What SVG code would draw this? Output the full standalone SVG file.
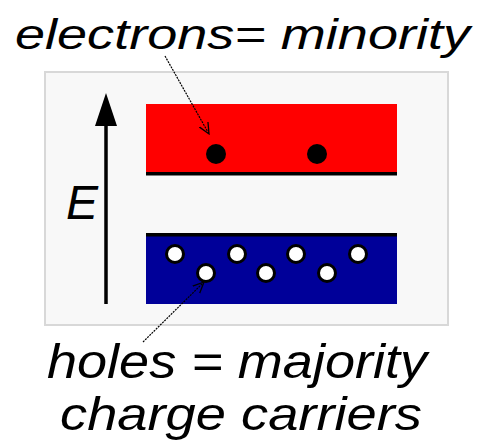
<svg xmlns="http://www.w3.org/2000/svg" width="478" height="440" viewBox="0 0 478 440">
<defs>
<style>
.lbl{font-family:"Liberation Sans",Arial,sans-serif;font-style:italic;fill:#000}
.e{fill:#000}
.h{fill:#fff;stroke:#000;stroke-width:3}
.call{stroke:#000;stroke-width:1.2;stroke-dasharray:2 1;fill:none}
</style>
<marker id="open" viewBox="0 0 12 12" refX="11" refY="6" markerWidth="12" markerHeight="12" markerUnits="userSpaceOnUse" orient="auto">
<path d="M0,1 L11,6 L0,11" fill="none" stroke="#000" stroke-width="1.3"/>
</marker>
</defs>
<rect width="478" height="440" fill="#fff"/>
<g id="frame"><rect x="45" y="72" width="403" height="253" fill="#f8f8f8" stroke="#d8d8d8" stroke-width="2"/></g>
<g id="conduction-band">
<rect x="146" y="104" width="251" height="69" fill="#ff0000"/>
<rect x="146" y="172" width="251" height="3.5" fill="#000"/>
<circle class="e" cx="216" cy="154" r="10"/>
<circle class="e" cx="317" cy="154" r="10"/>
</g>
<g id="valence-band">
<rect x="146" y="233" width="251" height="71" fill="#000099"/>
<rect x="146" y="233" width="251" height="3.5" fill="#000"/>
<circle class="h" cx="175" cy="254" r="8.5"/>
<circle class="h" cx="206" cy="273" r="8.5"/>
<circle class="h" cx="237" cy="254" r="8.5"/>
<circle class="h" cx="266" cy="273" r="8.5"/>
<circle class="h" cx="296" cy="254" r="8.5"/>
<circle class="h" cx="327" cy="273" r="8.5"/>
<circle class="h" cx="358" cy="254" r="8.5"/>
</g>
<g id="energy-axis">
<line x1="106" y1="304" x2="106" y2="110" stroke="#000" stroke-width="3.5"/>
<path d="M106,93 L117,126 L95,126 Z" fill="#000"/>
<text class="lbl" x="66" y="219" font-size="48">E</text>
</g>
<g id="label-electrons"><text class="lbl" x="15" y="49" font-size="42" textLength="455" lengthAdjust="spacingAndGlyphs">electrons= minority</text></g>
<g id="label-holes">
<text class="lbl" x="47" y="378" font-size="48" textLength="380" lengthAdjust="spacingAndGlyphs">holes = majority</text>
<text class="lbl" x="60" y="430" font-size="46" textLength="362" lengthAdjust="spacingAndGlyphs">charge carriers</text>
</g>
<g id="connectors">
<line class="call" x1="165" y1="56" x2="209" y2="134" marker-end="url(#open)"/>
<line class="call" x1="143" y1="342" x2="204" y2="282" marker-end="url(#open)"/>
</g>
</svg>
